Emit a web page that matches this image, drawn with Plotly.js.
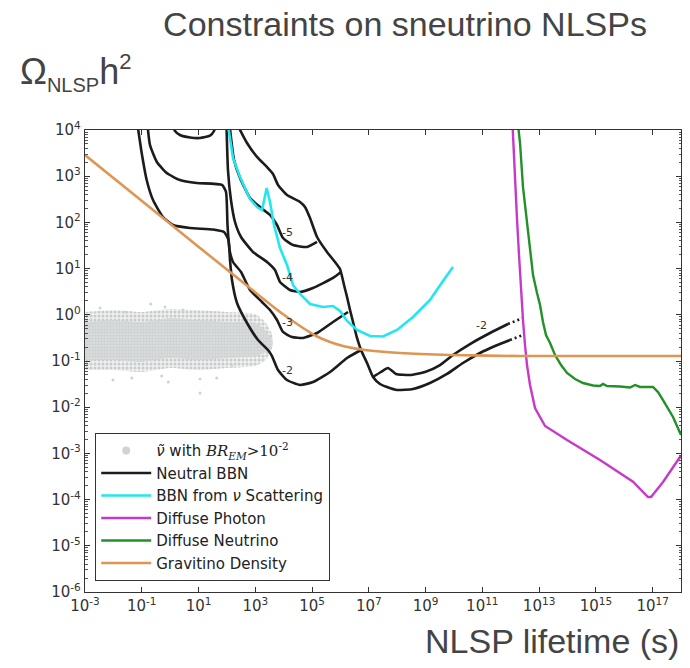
<!DOCTYPE html>
<html>
<head>
<meta charset="utf-8">
<script src="https://cdn.plot.ly/plotly-3.0.1.min.js"></script>
<style>html,body{margin:0;padding:0;background:#fff}</style>
</head>
<body>
<div id="chart" style="width:690px;height:668px"></div>
<script>
// ---------- axis ticks ----------
const xTickVals = [1e-3, 1e-1, 1e1, 1e3, 1e5, 1e7, 1e9, 1e11, 1e13, 1e15, 1e17];
const xTickText = ['10<sup>-3</sup>','10<sup>-1</sup>','10<sup>1</sup>','10<sup>3</sup>','10<sup>5</sup>','10<sup>7</sup>','10<sup>9</sup>','10<sup>11</sup>','10<sup>13</sup>','10<sup>15</sup>','10<sup>17</sup>'];
const yTickVals = [1e4, 1e3, 1e2, 1e1, 1e0, 1e-1, 1e-2, 1e-3, 1e-4, 1e-5, 1e-6];
const yTickText = ['10<sup>4</sup>','10<sup>3</sup>','10<sup>2</sup>','10<sup>1</sup>','10<sup>0</sup>','10<sup>-1</sup>','10<sup>-2</sup>','10<sup>-3</sup>','10<sup>-4</sup>','10<sup>-5</sup>','10<sup>-6</sup>'];

// ---------- grey cloud: sneutrinos with BR_EM > 1e-2 ----------
const bandTau        = [0.001, 0.01, 0.1, 1, 10, 100, 1000, 2240, 3980];
const bandOuterUpper = [1.15, 1.27, 1.15, 1.34, 1.27, 1.15, 1.04, 0.698, 0.366];
const bandOuterLower = [0.0638, 0.0638, 0.0578, 0.0705, 0.0638, 0.0705, 0.078, 0.105, 0.191];
const bandInnerUpper = [0.698, 0.771, 0.698, 0.853, 0.771, 0.698, 0.665, 0.469, 0.285];
const bandInnerLower = [0.105, 0.105, 0.095, 0.116, 0.105, 0.116, 0.128, 0.157, 0.222];
const cloudTau   = [0.00338, 0.206, 0.659, 2.84, 0.0097, 0.0443, 0.505, 0.861, 11.3, 43.8, 148, 1870, 2810, 11.3, 290, 0.0256];
const cloudOmega = [1.40, 1.71, 1.48, 1.27, 0.0388, 0.0429, 0.0473, 0.0351, 0.0408, 0.0429, 0.078, 0.105, 0.149, 0.0203, 1.27, 1.15];

// ---------- Neutral BBN (contours of log10 BR_had) ----------
const br2Tau   = [0.071, 0.0995, 0.149, 0.249, 0.56, 1.26, 5.01, 32.4, 79.1, 114, 128.5, 151, 227, 511, 1250, 2810, 3880, 6320, 13100, 37700, 1.08e5, 4.3e5, 1.71e6, 5.31e6];
const br2Omega = [12800, 3180, 828, 305, 131, 87.9, 75.7, 70.2, 61.9, 41.6, 15.3, 5.66, 1.80, 0.665, 0.285, 0.173, 0.128, 0.0638, 0.0388, 0.0303, 0.0351, 0.0578, 0.116, 0.173];
const br3Tau   = [0.159, 0.195, 0.336, 0.757, 2.22, 8.63, 67.1, 92.9, 105, 124, 164, 314, 652, 1730, 3300, 5830, 9480, 19700, 48100, 1.50e5, 5.48e5, 1.85e6];
const br3Omega = [12800, 4730, 2060, 1170, 828, 713, 646, 455, 87.9, 25.3, 13.9, 8.43, 3.44, 1.89, 1.27, 0.771, 0.425, 0.330, 0.315, 0.404, 0.698, 1.15];
const br4aTau   = [1.21, 1.48, 2.22, 5.01, 11.3, 25.4, 35.1, 39.6];
const br4aOmega = [12800, 9510, 7800, 6880, 6710, 7530, 9510, 12800];
const br4bTau   = [96.8, 109, 139, 193, 314, 832, 2590, 4950, 7430, 16700, 37700, 1.08e5, 5.48e5, 1.05e6];
const br4bOmega = [12800, 1360, 305, 102, 48.3, 22.9, 13.9, 9.33, 5.13, 3.44, 3.12, 3.80, 6.27, 8.43];
const br5Tau   = [124, 178, 290, 652, 1470, 3300, 5830, 9480, 21300, 66400, 1.50e5];
const br5Omega = [12800, 2240, 914, 337, 215, 145, 87.9, 45.9, 32.4, 29.4, 37.7];
const envTau   = [236, 511, 1150, 2590, 4210, 6320, 13100, 37700, 56500, 84800, 1.50e5, 3.37e5, 6.44e5, 9.66e5, 1.34e6, 1.71e6, 2.18e6, 2.78e6, 3.84e6, 5.31e6, 8.65e6, 1.41e7, 2.48e7, 4.38e7, 9.86e7, 3.61e8, 1.43e9, 5.69e9, 2.08e10, 8.28e10, 2.80e11, 9.44e11];
const envOmega = [12800, 5230, 2610, 1580, 1120, 646, 392, 277, 215, 124, 48.3, 22.9, 13.9, 9.79, 4.42, 2.43, 1.27, 0.698, 0.315, 0.173, 0.0906, 0.0451, 0.0318, 0.0274, 0.0236, 0.0248, 0.0334, 0.0524, 0.0906, 0.149, 0.211, 0.285];
const lateTau   = [1.41e7, 2.69e7, 4.75e7, 9.08e7, 2.83e8, 9.55e8, 3.23e9, 9.27e9, 3.68e10, 1.87e11, 8.04e11];
const lateOmega = [0.0451, 0.0578, 0.0705, 0.0524, 0.0497, 0.0578, 0.0818, 0.135, 0.233, 0.404, 0.632];
const lateDotTau   = [8.04e11, 2.71e12];
const lateDotOmega = [0.632, 0.853];
const envDotTau    = [9.44e11, 2.71e12];
const envDotOmega  = [0.285, 0.366];
const contourLabelText  = ['-5', '-4', '-3', '-2', '-2'];
const contourLabelTau   = [1.42e4, 1.42e4, 1.42e4, 1.42e4, 9.5e10];
const contourLabelOmega = [61.9, 6.58, 0.665, 0.0638, 0.601];

// ---------- BBN from neutrino scattering ----------
const scatTau   = [109, 164, 290, 652, 1150, 1730, 2520, 3300, 4570, 7430, 13100, 21300, 37700, 84800, 2.43e5, 5.48e5, 9.66e5, 1.71e6, 3.84e6, 1.10e7, 3.16e7, 9.86e7, 3.61e8, 1.43e9, 4.11e9, 9.27e9];
const scatOmega = [12800, 2480, 962, 321, 215, 185, 556, 277, 87.9, 27.9, 12.0, 4.42, 2.82, 1.71, 1.48, 1.55, 1.21, 0.734, 0.469, 0.348, 0.339, 0.469, 0.895, 2.09, 5.40, 10.8];

// ---------- Diffuse photon ----------
const photTau   = [1.16e12, 1.26e12, 1.42e12, 1.67e12, 1.96e12, 2.31e12, 2.71e12, 3.19e12, 3.75e12, 4.79e12, 7.18e12, 1.62e13, 9.64e13, 1.40e15, 2.04e16, 6.88e16, 8.79e16, 2.33e17, 1e18];
const photOmega = [12800, 4070, 646, 113, 19.7, 3.44, 0.771, 0.222, 0.0818, 0.0303, 0.00962, 0.00392, 0.00195, 7.20e-4, 2.44e-4, 1.14e-4, 1.14e-4, 2.40e-4, 9.0e-4];

// ---------- Diffuse neutrino ----------
const nuTau   = [1.81e12, 2.13e12, 2.71e12, 3.66e12, 4.79e12, 6.11e12, 8.45e12, 1.08e13, 1.37e13, 1.75e13, 2.43e13, 3.64e13, 5.93e13, 9.64e13, 1.85e14, 3.53e14, 7.95e14, 1.40e15, 1.79e15, 2.47e15, 7.10e15, 1.60e16, 2.40e16, 3.60e16, 1.03e17, 1.55e17, 2.33e17, 3.49e17, 5.24e17, 1e18];
const nuOmega = [12800, 5230, 583, 113, 21.8, 7.26, 2.97, 1.63, 0.698, 0.366, 0.245, 0.135, 0.0818, 0.055, 0.0408, 0.0334, 0.0295, 0.0288, 0.0318, 0.0288, 0.0281, 0.0267, 0.0303, 0.0274, 0.0274, 0.0213, 0.0143, 0.00962, 0.00614, 0.0025];

// ---------- Gravitino density ----------
const gravTau   = [0.001, 0.56, 128.5, 7430, 37700, 1.38e5, 4.3e5, 1.45e6, 7.35e6, 1.26e8, 7.3e9, 2.1e12, 1e18];
const gravOmega = [2880, 124, 8.4, 1.15, 0.573, 0.348, 0.258, 0.206, 0.173, 0.149, 0.135, 0.128, 0.128];

// ---------- styles ----------
const BLACK = '#1c1c1c', CYAN = '#22e6f2', MAGENTA = '#c53ac8', GREEN = '#23902a', ORANGE = '#dd9654', GREY = '#cfd3d3';
const LW = 2.6;

function polygon(t, up, lo) {
  return {x: t.concat(t.slice().reverse()), y: up.concat(lo.slice().reverse())};
}
const outerPoly = polygon(bandTau, bandOuterUpper, bandOuterLower);
const innerPoly = polygon(bandTau, bandInnerUpper, bandInnerLower);

function bbn(x, y, show, extra) {
  return Object.assign({type: 'scatter', mode: 'lines', x: x, y: y, name: 'Neutral BBN', legendgroup: 'bbn', showlegend: show,
    line: {color: BLACK, width: LW, shape: 'spline', smoothing: 0.5}, hoverinfo: 'skip'}, extra || {});
}

const traces = [
  {type: 'scatter', mode: 'lines', x: outerPoly.x, y: outerPoly.y, fill: 'toself', fillcolor: 'rgba(255,255,255,0)',
    fillpattern: {shape: '.', fgcolor: 'rgb(200,204,204)', bgcolor: 'rgb(240,241,241)', size: 4, solidity: 0.45},
    line: {width: 0, shape: 'spline', smoothing: 0.6}, showlegend: false, hoverinfo: 'skip'},
  {type: 'scatter', mode: 'lines', x: innerPoly.x, y: innerPoly.y, fill: 'toself', fillcolor: 'rgba(255,255,255,0)',
    fillpattern: {shape: '.', fgcolor: 'rgb(206,209,209)', bgcolor: 'rgb(220,223,223)', size: 3, solidity: 0.5},
    line: {width: 0, shape: 'spline', smoothing: 0.6}, showlegend: false, hoverinfo: 'skip'},
  {type: 'scatter', mode: 'markers', x: cloudTau, y: cloudOmega, marker: {color: GREY, size: 3}, showlegend: false, hoverinfo: 'skip'},
  {type: 'scatter', mode: 'markers', x: [null], y: [null], name: '<i>ν̃</i> with <span style="font-family:DejaVu Serif"><i>BR</i><sub><i>EM</i></sub>&gt;10<sup>-2</sup></span>', marker: {color: GREY, size: 8}, showlegend: true},
  bbn(br2Tau, br2Omega, true),
  bbn(br3Tau, br3Omega, false),
  bbn(br4aTau, br4aOmega, false),
  bbn(br4bTau, br4bOmega, false),
  bbn(br5Tau, br5Omega, false),
  bbn(envTau, envOmega, false),
  bbn(lateTau, lateOmega, false),
  bbn(lateDotTau, lateDotOmega, false, {line: {color: BLACK, width: LW, dash: '2px,3px'}}),
  bbn(envDotTau, envDotOmega, false, {line: {color: BLACK, width: LW, dash: '2px,3px'}}),
  {type: 'scatter', mode: 'lines', x: scatTau, y: scatOmega, name: 'BBN from <i>ν</i> Scattering', line: {color: CYAN, width: 2.6}, hoverinfo: 'skip'},
  {type: 'scatter', mode: 'lines', x: photTau, y: photOmega, name: 'Diffuse Photon', line: {color: MAGENTA, width: 2.4}, hoverinfo: 'skip'},
  {type: 'scatter', mode: 'lines', x: nuTau, y: nuOmega, name: 'Diffuse Neutrino', line: {color: GREEN, width: 2.4}, hoverinfo: 'skip'},
  {type: 'scatter', mode: 'lines', x: gravTau, y: gravOmega, name: 'Gravitino Density', line: {color: ORANGE, width: 2.6, shape: 'spline', smoothing: 0.6}, hoverinfo: 'skip'}
];

const yMinor = [];
for (let e = -6; e < 4; e++) { for (let m = 2; m <= 9; m++) { yMinor.push(m * Math.pow(10, e)); } }

const annotations = contourLabelText.map((t, i) => ({
  x: Math.log10(contourLabelTau[i]), y: Math.log10(contourLabelOmega[i]), xref: 'x', yref: 'y',
  text: t, showarrow: false, font: {family: 'DejaVu Sans', size: 11, color: '#333'}
}));
annotations.push({
  xref: 'paper', yref: 'paper', x: -0.113, y: 1.125, xanchor: 'left', yanchor: 'middle', showarrow: false,
  text: 'Ω<sub><span style="font-size:20px">NLSP</span></sub>h<sup><span style="font-size:22px">2</span></sup>',
  font: {family: 'Liberation Sans, Arial, sans-serif', size: 36, color: '#444'}
});
annotations.push({
  xref: 'paper', yref: 'paper', x: 1.0, y: -0.105, xanchor: 'right', yanchor: 'middle', showarrow: false,
  text: 'NLSP lifetime (s)', font: {family: 'Liberation Sans, Arial, sans-serif', size: 34, color: '#444'}
});

const axisCommon = {
  type: 'log', tickmode: 'array', ticks: 'inside', ticklen: 5, tickwidth: 1, tickcolor: '#333',
  showline: true, linecolor: '#333', linewidth: 1.2, mirror: 'ticks', showgrid: false, zeroline: false,
  tickfont: {family: 'DejaVu Sans, sans-serif', size: 15, color: '#333'}
};

const layout = {
  width: 690, height: 668,
  margin: {l: 85, r: 9, t: 130, b: 76, pad: 0},
  paper_bgcolor: '#ffffff', plot_bgcolor: '#ffffff',
  title: {text: 'Constraints on sneutrino NLSPs', xref: 'container', yref: 'container', x: 0.587, xanchor: 'center', y: 0.981, yanchor: 'top',
    font: {family: 'Liberation Sans, Arial, sans-serif', size: 34, color: '#444'}},
  xaxis: Object.assign({}, axisCommon, {range: [-3, 18], tickvals: xTickVals, ticktext: xTickText}),
  yaxis: Object.assign({}, axisCommon, {range: [-6, 4], tickvals: yTickVals, ticktext: yTickText,
    minor: {tickmode: 'array', tickvals: yMinor, ticks: 'inside', ticklen: 2.5, tickcolor: '#555', showgrid: false}}),
  showlegend: true,
  legend: {x: 0.0168, y: 0.344, xanchor: 'left', yanchor: 'top', bgcolor: '#ffffff', bordercolor: '#333', borderwidth: 1.2,
    traceorder: 'normal', tracegroupgap: 0, itemwidth: 50, entrywidth: 247, entrywidthmode: 'pixels',
    font: {family: 'DejaVu Sans, sans-serif', size: 15, color: '#222'}},
  annotations: annotations
};

Plotly.newPlot('chart', traces, layout, {displayModeBar: false, staticPlot: true});
</script>
</body>
</html>
